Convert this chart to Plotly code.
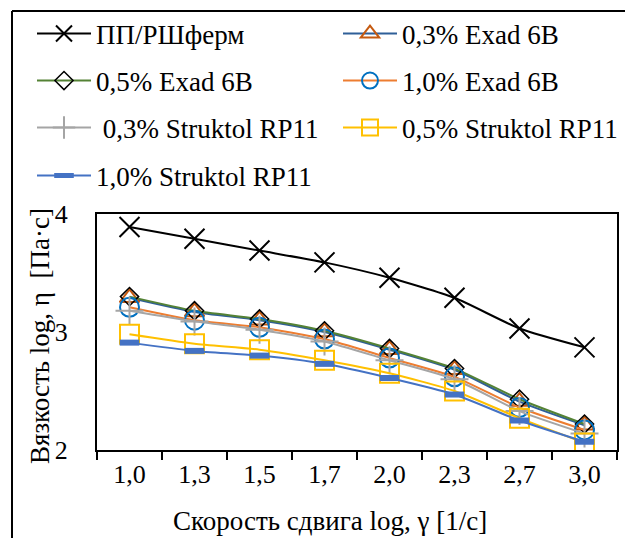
import plotly.graph_objects as go

categories = ["1,0", "1,3", "1,5", "1,7", "2,0", "2,3", "2,7", "3,0"]
pp_rsh = [3.89, 3.79, 3.69, 3.59, 3.46, 3.29, 3.03, 2.87]
exad_03 = [3.29, 3.17, 3.10, 3.00, 2.85, 2.68, 2.41, 2.21]
exad_05 = [3.30, 3.18, 3.11, 3.01, 2.86, 2.69, 2.43, 2.22]
exad_10 = [3.21, 3.10, 3.04, 2.94, 2.78, 2.62, 2.36, 2.17]
strk_03 = [3.18, 3.09, 3.02, 2.92, 2.76, 2.60, 2.33, 2.14]
strk_05 = [2.98, 2.90, 2.85, 2.76, 2.65, 2.50, 2.27, 2.06]
strk_10 = [2.91, 2.84, 2.80, 2.73, 2.61, 2.47, 2.25, 2.07]

names = ["ПП/РШферм", "0,3% Exad 6B", "0,5% Exad 6B", "1,0% Exad 6B",
         " 0,3% Struktol RP11", "0,5% Struktol RP11", "1,0% Struktol RP11"]

FONT = "Liberation Serif, Times New Roman, serif"

styles = [
    dict(data=pp_rsh, line="#000000", sym="x-thin-open", mc="#000000", ms=20, mlw=2),
    dict(data=exad_03, line="#2F5F98", sym="triangle-up-open", mc="#C55A11", ms=17, mlw=2),
    dict(data=exad_05, line="#548235", sym="diamond-open", mc="#000000", ms=14, mlw=1.5),
    dict(data=exad_10, line="#ED7D31", sym="circle-open", mc="#0070C0", ms=19, mlw=2),
    dict(data=strk_03, line="#A5A5A5", sym="cross-thin-open", mc="#A5A5A5", ms=20, mlw=2),
    dict(data=strk_05, line="#FFC000", sym="square-open", mc="#FFC000", ms=19, mlw=2),
    dict(data=strk_10, line="#4472C4", sym="line-ew-open", mc="#4472C4", ms=14, mlw=6),
]

W, H = 625, 538
L, R, T, B = 97, 8, 214, 88
pw = W - L - R
ph = H - T - B


def px_x(px):
    return (px - L) / pw


def px_y(py):
    return (H - B - py) / ph


# legend slot positions in page pixels (column left, row centre)
slots = [(32, 34), (338, 34), (32, 81), (338, 81), (32, 128), (338, 128), (32, 176)]

fig = go.Figure()
legends = {}
for i, (name, s) in enumerate(zip(names, styles)):
    key = "legend" if i == 0 else f"legend{i+1}"
    fig.add_trace(go.Scatter(
        x=categories, y=s["data"], name=name, mode="lines+markers",
        line=dict(color=s["line"], width=2, shape="spline", smoothing=0.6),
        marker=dict(symbol=s["sym"], size=s["ms"], color=s["mc"],
                    line=dict(color=s["mc"], width=s["mlw"])),
        legend=key,
    ))
    cx, cy = slots[i]
    legends[key] = dict(
        orientation="v", xref="container", yref="container",
        x=cx / W, y=1 - cy / H, xanchor="left", yanchor="middle",
        font=dict(family=FONT, size=27, color="#000000"),
        bgcolor="rgba(0,0,0,0)", itemwidth=54, borderwidth=0,
    )

fig.update_layout(
    width=W, height=H,
    margin=dict(l=L, r=R, t=T, b=B, autoexpand=False),
    paper_bgcolor="white", plot_bgcolor="white",
    font=dict(family=FONT, size=26, color="#000000"),
    showlegend=True,
    **legends,
    xaxis=dict(
        type="category", range=[-0.5, 7.5],
        showline=True, linecolor="#000000", linewidth=2, mirror=True,
        ticks="outside", tickson="boundaries", ticklen=8, tickwidth=2, tickcolor="#000000",
        showgrid=False, zeroline=False,
        tickfont=dict(family=FONT, size=26),
    ),
    yaxis=dict(
        range=[2, 4], tickvals=[2, 3, 4], ticktext=["2", "3", "4"],
        showline=True, linecolor="#000000", linewidth=2, mirror=True,
        ticks="", showgrid=False, zeroline=False, ticklabelstandoff=22,
        tickfont=dict(family=FONT, size=26),
    ),
    annotations=[
        dict(text="Скорость сдвига log, γ [1/с]", xref="paper", yref="paper",
             x=px_x(330), y=px_y(521), xanchor="center", yanchor="middle",
             showarrow=False, font=dict(family=FONT, size=27, color="#000000")),
        dict(text="Вязкость log, η  [Па·с]", xref="paper", yref="paper",
             x=px_x(40), y=px_y(336), xanchor="center", yanchor="middle", textangle=-90,
             showarrow=False, font=dict(family=FONT, size=27, color="#000000")),
    ],
    shapes=[
        dict(type="line", xref="paper", yref="paper",
             x0=px_x(12), x1=px_x(12), y0=px_y(11), y1=px_y(545),
             line=dict(color="#000000", width=2)),
        dict(type="line", xref="paper", yref="paper",
             x0=px_x(12), x1=px_x(630), y0=px_y(11), y1=px_y(11),
             line=dict(color="#000000", width=2)),
    ],
)

fig.write_html("out.html")
